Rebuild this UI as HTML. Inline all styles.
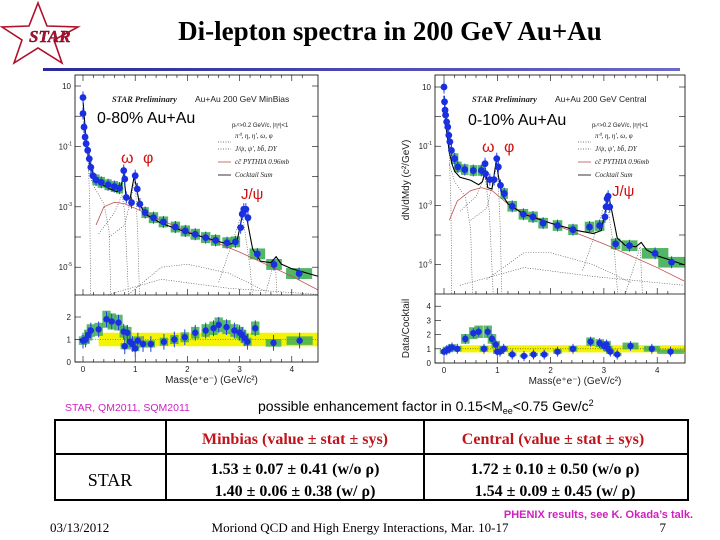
<!DOCTYPE html>
<html><head><meta charset="utf-8"><style>
html,body{margin:0;padding:0;background:#fff;}
body{width:720px;height:540px;overflow:hidden;position:relative;font-family:"Liberation Sans",sans-serif;}
svg{position:absolute;left:0;top:0;}
.tk{font-family:"Liberation Sans",sans-serif;}
.lg{font-family:"Liberation Serif",serif;font-style:italic;}
</style></head><body>
<svg id="s" width="720" height="540" viewBox="0 0 720 540">
  <defs><linearGradient id="bl" x1="0" x2="1"><stop offset="0" stop-color="#2a2a9a"/><stop offset="1" stop-color="#6a6ac8"/></linearGradient></defs>
  <g>
    <polygon points="38,3 47,26 78,27 54,40 62,63 38,48 14,63 22,40 2,27 29,26" fill="none" stroke="#b0102a" stroke-width="1.6"/>
    <text x="29" y="42" font-family="Liberation Serif,serif" font-style="italic" font-weight="bold" font-size="17" fill="#b0102a" stroke="#602" stroke-width="0.4">STAR</text>
  </g>
  <text x="390" y="40" text-anchor="middle" font-family="Liberation Serif,serif" font-weight="bold" font-size="27" fill="#000">Di-lepton spectra in 200 GeV Au+Au</text>
  <rect x="43" y="68" width="637" height="3" fill="url(#bl)"/>
  <g id="charts"></g>
  <text x="65" y="411" font-size="10.5" fill="#d020c0" font-family="Liberation Sans,sans-serif">STAR, QM2011, SQM2011</text>
  <text x="258" y="411" font-size="14" fill="#000" font-family="Liberation Sans,sans-serif">possible enhancement factor in 0.15&lt;M<tspan font-size="9" dy="3">ee</tspan><tspan dy="-3">&lt;0.75 Gev/c</tspan><tspan font-size="9" dy="-5">2</tspan></text>
  <g font-family="Liberation Serif,serif" font-weight="bold">
    <rect x="55" y="420" width="633" height="80" fill="none" stroke="#000" stroke-width="2"/>
    <line x1="55" y1="454" x2="688" y2="454" stroke="#000" stroke-width="2"/>
    <line x1="166" y1="420" x2="166" y2="500" stroke="#000" stroke-width="2"/>
    <line x1="424" y1="420" x2="424" y2="500" stroke="#000" stroke-width="2"/>
    <text x="295" y="444" text-anchor="middle" font-size="16" fill="#c0141c">Minbias (value ± stat ± sys)</text>
    <text x="553" y="444" text-anchor="middle" font-size="16" fill="#c0141c">Central (value ± stat ± sys)</text>
    <text x="110" y="486" text-anchor="middle" font-size="18" font-weight="normal" fill="#000">STAR</text>
    <text x="295" y="474" text-anchor="middle" font-size="16" fill="#000">1.53 ± 0.07 ± 0.41 (w/o ρ)</text>
    <text x="295" y="496" text-anchor="middle" font-size="16" fill="#000">1.40 ± 0.06 ± 0.38 (w/ ρ)</text>
    <text x="555" y="474" text-anchor="middle" font-size="16" fill="#000">1.72 ± 0.10 ± 0.50 (w/o ρ)</text>
    <text x="555" y="496" text-anchor="middle" font-size="16" fill="#000">1.54 ± 0.09 ± 0.45 (w/ ρ)</text>
  </g>
  <text x="693" y="518" text-anchor="end" font-size="11" font-weight="bold" fill="#d020c0" font-family="Liberation Sans,sans-serif">PHENIX results, see  K. Okada’s talk.</text>
  <text x="50" y="532" font-size="13" fill="#000" font-family="Liberation Serif,serif">03/13/2012</text>
  <text x="360" y="532" text-anchor="middle" font-size="13" fill="#000" font-family="Liberation Serif,serif">Moriond QCD and High Energy Interactions, Mar. 10-17</text>
  <text x="666" y="532" text-anchor="end" font-size="13" fill="#000" font-family="Liberation Serif,serif">7</text>
</svg>
<script>
// ---- Minbias (left) data: mass GeV/c2, log10(dN/dMdy) ----
const massL=[0,0,0.02,0.04,0.06,0.09,0.12,0.15,0.19,0.25,0.35,0.48,0.6,0.7,0.78,0.8,0.83,0.93,1.0,1.04,1.09,1.19,1.35,1.54,1.77,1.96,2.15,2.35,2.54,2.76,2.92,3.02,3.05,3.08,3.12,3.16,3.34,3.66,4.14];
const specL=[0.62,0.09,-0.36,-0.69,-0.91,-1.13,-1.41,-1.69,-1.97,-2.11,-2.19,-2.27,-2.33,-2.38,-1.8,-2.08,-2.69,-2.86,-1.97,-2.41,-2.91,-3.19,-3.36,-3.5,-3.67,-3.8,-3.91,-4.02,-4.11,-4.19,-4.16,-3.69,-3.24,-3.08,-3.08,-3.36,-4.56,-4.91,-5.21];
const cockMassL=[0,0.05,0.1,0.15,0.2,0.3,0.5,0.65,0.72,0.78,0.82,0.9,0.98,1.02,1.08,1.2,1.5,2.0,2.5,2.8,2.95,3.05,3.1,3.15,3.25,3.4,3.6,3.7,3.8,4.0,4.5];
const cockL=[0.5,-0.6,-1.3,-1.7,-1.95,-2.2,-2.4,-2.5,-2.4,-1.9,-2.6,-2.75,-2.0,-2.3,-2.9,-3.25,-3.55,-3.85,-4.1,-4.25,-4.15,-3.3,-3.1,-3.5,-4.4,-4.8,-4.85,-4.65,-4.9,-5.05,-5.3];
const charmMassL=[0.25,0.4,0.6,0.8,1.0,1.5,2.0,2.5,3.0,3.5,4.0,4.5];
const charmL=[-3.6,-3.0,-2.85,-2.9,-3.05,-3.45,-3.8,-4.15,-4.5,-4.9,-5.3,-5.75];
const ratioMassL=[0,0.05,0.1,0.15,0.3,0.45,0.55,0.68,0.78,0.8,0.85,0.9,0.95,1.0,1.05,1.15,1.3,1.55,1.75,1.95,2.15,2.35,2.5,2.6,2.75,2.9,3.0,3.05,3.1,3.15,3.3,3.65,4.15];
const ratioL=[0.95,1.0,1.2,1.4,1.45,1.9,1.8,1.75,1.35,0.7,1.3,0.9,0.8,0.6,0.95,0.8,0.8,0.9,1.0,1.1,1.3,1.4,1.5,1.65,1.55,1.4,1.3,1.2,1.05,0.9,1.5,0.85,0.95];
// ---- Central (right) data ----
const massR=[0,0.01,0.02,0.03,0.05,0.07,0.09,0.11,0.14,0.2,0.26,0.39,0.55,0.7,0.77,0.78,0.86,0.94,0.99,1.02,1.06,1.13,1.28,1.49,1.67,1.86,2.13,2.42,2.73,2.92,3.02,3.04,3.06,3.08,3.11,3.22,3.48,3.96,4.27];
const specR=[1.0,0.5,0.22,0.05,-0.18,-0.35,-0.63,-0.85,-1.14,-1.42,-1.7,-1.79,-1.82,-1.82,-1.59,-1.93,-2.13,-2.13,-1.42,-1.7,-2.32,-2.6,-3.03,-3.3,-3.39,-3.6,-3.68,-3.82,-3.73,-3.68,-3.39,-3.05,-2.77,-2.69,-3.05,-4.3,-4.36,-4.62,-4.92];
const cockMassR=[0,0.05,0.1,0.15,0.2,0.3,0.5,0.65,0.72,0.78,0.82,0.9,0.98,1.02,1.08,1.2,1.5,2.0,2.5,2.8,2.95,3.05,3.1,3.15,3.25,3.4,3.6,3.7,3.8,4.0,4.5];
const cockR=[0.7,-0.5,-1.2,-1.6,-1.85,-2.05,-2.15,-2.3,-2.2,-1.8,-2.4,-2.45,-1.5,-2.0,-2.6,-2.95,-3.3,-3.6,-3.85,-3.95,-3.85,-3.0,-2.75,-3.2,-4.1,-4.35,-4.4,-4.25,-4.5,-4.7,-5.0];
const charmMassR=[0.1,0.25,0.5,0.7,0.9,1.2,1.5,2.0,2.5,3.0,3.5,4.0,4.5];
const charmR=[-3.5,-2.85,-2.5,-2.4,-2.5,-2.95,-3.25,-3.6,-3.95,-4.3,-4.7,-5.1,-5.55];
const ratioMassR=[0,0.05,0.1,0.15,0.25,0.4,0.55,0.65,0.75,0.82,0.9,0.97,1.0,1.05,1.12,1.28,1.5,1.68,1.88,2.13,2.42,2.75,2.92,3.0,3.05,3.08,3.12,3.25,3.5,3.9,4.25];
const ratioR=[0.8,0.9,1.0,1.1,1.0,1.7,2.1,2.2,1.0,2.2,1.7,1.3,0.8,0.8,1.0,0.6,0.5,0.6,0.6,0.8,1.0,1.5,1.4,1.2,1.3,1.0,0.8,0.6,1.2,1.0,0.8];
const xTicks=[0,1,2,3,4];
const logTicks=[1,-1,-3,-5];
const ratioTicksL=[0,1,2];
const ratioTicksR=[0,1,2,3,4];

const NS='http://www.w3.org/2000/svg';
const root=document.getElementById('charts');
function mk(tag,attrs,parent){const e=document.createElementNS(NS,tag);for(const k in attrs)e.setAttribute(k,attrs[k]);(parent||root).appendChild(e);return e;}
function txt(x,y,s,cls,parent,extra){const a=Object.assign({x:x,y:y,class:cls,'font-size':cls==='lg'?7:8,fill:'#222'},extra||{});const t=mk('text',a,parent);t.textContent=s;return t;}

function panel(cfg){
  const g=mk('g',{});
  
  
  const X=m=>cfg.x0+m*cfg.xs;
  const Y=l=>cfg.y10+(1-l)*cfg.dec;
  const R=r=>cfg.r0-r*cfg.rs;
  const clipId=cfg.name+'-clip', clipR=cfg.name+'-clipr';
  const cp=mk('clipPath',{id:clipId},g); mk('rect',{x:cfg.L,y:cfg.T,width:cfg.Rt-cfg.L,height:cfg.M-cfg.T},cp);
  const cp2=mk('clipPath',{id:clipR},g); mk('rect',{x:cfg.L,y:cfg.M,width:cfg.Rt-cfg.L,height:cfg.B-cfg.M},cp2);
  const up=mk('g',{'clip-path':'url(#'+clipId+')'},g);
  const lo=mk('g',{'clip-path':'url(#'+clipR+')'},g);
  cfg.comps.forEach(c=>{const p=mk('polyline',{points:c.map(d=>X(d[0])+','+Y(d[1])).join(' '),fill:'none',stroke:'#444','stroke-width':0.6,'stroke-dasharray':'1,1.5'},up);
    
    });
  cfg.mass.forEach((m,i)=>{ if(m<0.2||(m>0.72&&m<1.1)||(m>2.95&&m<3.2))return;
    const w=m>3.3?(m>3.9?0.5:0.3):(m<1.2?0.14:0.18);
    const b=mk('rect',{x:X(m-w/2),y:Y(cfg.spec[i]+0.18),width:w*cfg.xs,height:Y(cfg.spec[i]-0.18)-Y(cfg.spec[i]+0.18),fill:'#3fae55',opacity:0.9},up);
    
    });
  const ch=mk('polyline',{points:cfg.charmM.map((m,i)=>X(m)+','+Y(cfg.charm[i])).join(' '),fill:'none',stroke:'#c05050','stroke-width':0.8},up);
  
  
  const ck=mk('polyline',{points:cfg.cockM.map((m,i)=>X(m)+','+Y(cfg.cock[i])).join(' '),fill:'none',stroke:'#000','stroke-width':1.1},up);
  
  
  cfg.mass.forEach((m,i)=>{
    mk('line',{x1:X(m),x2:X(m),y1:Y(cfg.spec[i]+0.2),y2:Y(cfg.spec[i]-0.2),stroke:'#2040e0','stroke-width':1},up);
    const c=mk('circle',{cx:X(m),cy:Y(cfg.spec[i]),r:3.4,fill:'#1a2fe0'},up);
    
    });
  mk('path',{d:'M'+X(0.3)+','+R(1+cfg.band)+' L'+X(4.6)+','+R(1+cfg.band)+' L'+X(4.6)+','+R(1-cfg.band)+' L'+X(0.3)+','+R(1-cfg.band)+' Z',fill:'#f4f400'},lo);
  mk('line',{x1:cfg.L,x2:cfg.Rt,y1:R(1),y2:R(1),stroke:'#333','stroke-width':0.6,'stroke-dasharray':'1,1.5'},lo);
  cfg.rM.forEach((m,i)=>{ const w=m>3.3?(m>3.9?0.5:0.3):0.16;
    const b=mk('rect',{x:X(m-w/2),y:R(cfg.r[i]*1.2),width:w*cfg.xs,height:R(cfg.r[i]*0.8)-R(cfg.r[i]*1.2),fill:'#3fae55',opacity:0.85},lo);
    
    });
  cfg.rM.forEach((m,i)=>{
    mk('line',{x1:X(m),x2:X(m),y1:R(cfg.r[i]+0.35),y2:R(cfg.r[i]-0.35),stroke:'#2040e0','stroke-width':1},lo);
    const c=mk('circle',{cx:X(m),cy:R(cfg.r[i]),r:3.2,fill:'#1a2fe0'},lo);
    
    });
  mk('rect',{x:cfg.L,y:cfg.T,width:cfg.Rt-cfg.L,height:cfg.B-cfg.T,fill:'none',stroke:'#000','stroke-width':0.8},g);
  mk('line',{x1:cfg.L,x2:cfg.Rt,y1:cfg.M,y2:cfg.M,stroke:'#000','stroke-width':0.8},g);
  for(let m=0;m<=4.4;m+=0.2){const big=Math.abs(m-Math.round(m))<0.01;const L=big?6:3;
    [cfg.M,cfg.B].forEach(yb=>mk('line',{x1:X(m),x2:X(m),y1:yb,y2:yb-L,stroke:'#000','stroke-width':0.6},g));
    mk('line',{x1:X(m),x2:X(m),y1:cfg.T,y2:cfg.T+L,stroke:'#000','stroke-width':0.6},g);}
  xTicks.forEach(v=>txt(X(v),cfg.B+10,String(v),'tk',g,{'text-anchor':'middle'}));
  for(let l=-5;l<=1;l++){mk('line',{x1:cfg.L,x2:cfg.L+6,y1:Y(l),y2:Y(l),stroke:'#000','stroke-width':0.6},g);mk('line',{x1:cfg.Rt,x2:cfg.Rt-6,y1:Y(l),y2:Y(l),stroke:'#000','stroke-width':0.6},g);}
  logTicks.forEach(l=>{const t=txt(cfg.L-4,Y(l)+3,'10','tk',g,{'text-anchor':'end'});
    if(l!==1){t.textContent='';t.setAttribute('x',cfg.L-3);const a=mk('tspan',{},t);a.textContent='10';const s=mk('tspan',{dy:-4,'font-size':5},t);s.textContent=String(l);}});
  cfg.rTicks.forEach(v=>{mk('line',{x1:cfg.L,x2:cfg.L+6,y1:R(v),y2:R(v),stroke:'#000','stroke-width':0.6},g);txt(cfg.L-4,R(v)+3,String(v),'tk',g,{'text-anchor':'end'});});
  txt((cfg.L+cfg.Rt)/2+15,cfg.B+21,'Mass(e⁺e⁻) (GeV/c²)','tk',g,{'text-anchor':'middle','font-size':10});
  txt(cfg.L+37,cfg.T+27,'STAR Preliminary','lg',g,{'font-style':'normal','font-weight':'bold','font-size':8.5,fill:'#222'});
  txt(cfg.L+120,cfg.T+27,cfg.sub,'tk',g,{'font-size':8.5});
  const big=txt(cfg.ax,cfg.ay,cfg.label,'tk',g,{'font-size':16,fill:'#000'});
  
  
  txt(cfg.L+157,cfg.T+52,'pₜᵉ>0.2 GeV/c, |ηᵉ|<1','tk',g,{'font-size':6});
  const lx=cfg.L+160;
  [['π⁰, η, η′, ω, φ','#444','1,1.5'],['J/ψ, ψ′, bb̄, DY','#444','1,1.5'],['cc̄ PYTHIA 0.96mb','#c05050',''],['Cocktail Sum','#000','']].forEach((e,k)=>{
    const yy=cfg.T+63+k*13;
    mk('line',{x1:lx-17,x2:lx-4,y1:yy-2+(k==0?6:0),y2:yy-2+(k==0?6:0),stroke:e[1],'stroke-width':0.8,'stroke-dasharray':e[2]},g);
    const t=txt(lx,yy,e[0],'lg',g);
    
    });
  txt(cfg.wx,cfg.wy,'ω','tk',g,{'font-size':16,fill:'#d01010','font-family':'Liberation Serif,serif'});
  txt(cfg.wx+22,cfg.wy,'φ','tk',g,{'font-size':16,fill:'#d01010','font-family':'Liberation Serif,serif'});
  txt(cfg.jx,cfg.jy,'J/ψ','tk',g,{'font-size':15,fill:'#d01010'});
  if(cfg.ytitle){txt(0,0,'dN/dMdy (c²/GeV)','tk',g,{'font-size':10,transform:'translate(409,'+(cfg.T+105)+') rotate(-90)','text-anchor':'middle'});
    txt(0,0,'Data/Cocktail','tk',g,{'font-size':10,transform:'translate(409,'+((cfg.M+cfg.B)/2)+') rotate(-90)','text-anchor':'middle'});}
}
const compsL=[[[0,0.6],[0.05,-0.5],[0.1,-1.3],[0.13,-3],[0.15,-7]],[[0.1,-1.8],[0.2,-2.3],[0.4,-2.9],[0.5,-3.8],[0.55,-7]],[[0.3,-3.9],[0.6,-3.2],[0.75,-2.6],[0.8,-3.2],[0.9,-7]],[[0.5,-4],[0.8,-3.6],[1.0,-2.1],[1.05,-4],[1.1,-7]],[[0.8,-6],[1.5,-5.0],[2.0,-4.9],[2.8,-5.2],[3.5,-5.8]],[[0.3,-6],[1.5,-5.4],[2.8,-5.7],[4.5,-5.9]],[[2.6,-5.5],[3.05,-3.2],[3.2,-5],[3.3,-7]],[[3.4,-6.5],[3.68,-4.7],[3.75,-7]]];
const compsR=[[[0,0.8],[0.05,-0.5],[0.1,-1.3],[0.13,-3],[0.15,-7]],[[0.1,-1.6],[0.2,-2.2],[0.4,-2.7],[0.5,-3.8],[0.55,-7]],[[0.3,-3.2],[0.6,-2.7],[0.77,-2.0],[0.85,-3.2],[0.95,-7]],[[0.5,-3.5],[0.8,-3.1],[1.0,-1.6],[1.05,-3.5],[1.1,-7]],[[0.8,-5.5],[1.5,-4.6],[2.0,-4.6],[2.8,-5.0],[3.5,-5.6]],[[0.3,-5.7],[1.5,-5.1],[2.8,-5.4],[4.5,-5.7]],[[2.6,-5.2],[3.05,-2.8],[3.2,-4.6],[3.3,-7]],[[3.4,-6],[3.68,-4.4],[3.75,-7]]];
panel({name:'minbias-chart',L:75,Rt:318,T:75,M:295,B:362,x0:83,xs:52.2,y10:86,dec:30.2,r0:362,rs:22.5,band:0.3,
  mass:massL,spec:specL,cockM:cockMassL,cock:cockL,charmM:charmMassL,charm:charmL,rM:ratioMassL,r:ratioL,rTicks:ratioTicksL,comps:compsL,
  sub:'Au+Au 200 GeV MinBias',label:'0-80% Au+Au',ax:97,ay:123,wx:121,wy:163,jx:241,jy:199,ytitle:false});
panel({name:'central-chart',L:435,Rt:685,T:75,M:294,B:363,x0:444,xs:53.3,y10:87,dec:29.6,r0:363,rs:14.2,band:0.25,
  mass:massR,spec:specR,cockM:cockMassR,cock:cockR,charmM:charmMassR,charm:charmR,rM:ratioMassR,r:ratioR,rTicks:ratioTicksR,comps:compsR,
  sub:'Au+Au 200 GeV Central',label:'0-10% Au+Au',ax:468,ay:125,wx:482,wy:152,jx:612,jy:196,ytitle:true});
</script>
</body></html>
